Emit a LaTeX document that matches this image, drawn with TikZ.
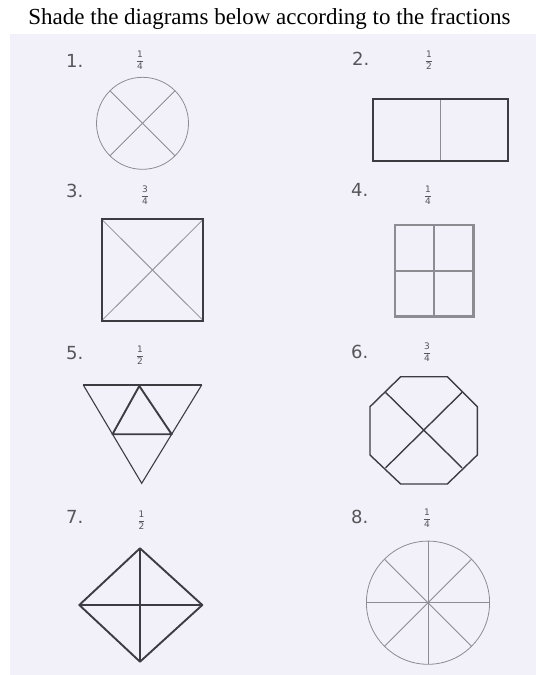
\documentclass[tikz,border=0pt]{standalone}
\usepackage{fontspec}
\setmainfont{Liberation Serif}
\newfontfamily\numfont{DejaVu Sans}
\newcommand{\myfr}[2]{$\displaystyle\frac{\mbox{\numfont\fontsize{9}{9}\selectfont #1}}{\mbox{\numfont\fontsize{9}{9}\selectfont #2}}$}
\definecolor{paper}{RGB}{242,241,250}
\definecolor{ink}{RGB}{60,60,66}
\definecolor{thin}{RGB}{140,140,146}
\definecolor{lab}{RGB}{85,85,90}
\begin{document}
\begin{tikzpicture}[x=1pt,y=-1pt,
  num/.style={font=\numfont\fontsize{18}{18}\selectfont, text=lab, inner sep=0pt, anchor=west},
  frac/.style={font=\fontsize{8}{8}\selectfont, text=lab, inner sep=0pt},
  thinline/.style={draw=thin, line width=0.8pt},
  thickline/.style={draw=ink, line width=1.9pt},
  medline/.style={draw=ink, line width=1.4pt},
  greybox/.style={draw=thin, line width=2.6pt}]
\useasboundingbox (0,0) rectangle (537,675);
\fill[white] (0,0) rectangle (537,675);
\fill[paper] (10,34) rectangle (536,675);
\node[font=\fontsize{23}{25}\selectfont, inner sep=0pt] (title) at (269.5,19) {Shade the diagrams below according to the fractions};
% labels
\node[num] (n1) at (66,61) {1.};
\node[frac] (f1) at (140,60) {\myfr{1}{4}};
\node[num] (n2) at (352,59) {2.};
\node[frac] (f2) at (429,60) {\myfr{1}{2}};
\node[num] (n3) at (66,191) {3.};
\node[frac] (f3) at (145,195) {\myfr{3}{4}};
\node[num] (n4) at (351,190) {4.};
\node[frac] (f4) at (428,195) {\myfr{1}{4}};
\node[num] (n5) at (66,353) {5.};
\node[frac] (f5) at (140,355) {\myfr{1}{2}};
\node[num] (n6) at (351,352) {6.};
\node[frac] (f6) at (427,352) {\myfr{3}{4}};
\node[num] (n7) at (66,517) {7.};
\node[frac] (f7) at (141.5,520) {\myfr{1}{2}};
\node[num] (n8) at (351,517) {8.};
\node[frac] (f8) at (427,518) {\myfr{1}{4}};
% 1 circle
\coordinate (c1) at (142.5,123.3);
\draw[thinline] (c1) circle[radius=46];
\draw[thinline] (c1) ++(45:46) -- ++(225:92);
\draw[thinline] (c1) ++(135:46) -- ++(-45:92);
% 2 rectangle
\draw[thickline] (372.7,99.3) rectangle (507.7,161);
\draw[thinline] (440.5,100.3) -- (440.5,160);
% 3 square
\draw[thinline] (101.7,219.3) -- (203.3,320.7);
\draw[thinline] (203.3,219.3) -- (101.7,320.7);
\draw[thickline] (101.7,219.3) rectangle (203.3,320.7);
% 4 window
\draw[greybox] (395,225) rectangle (473.3,316.7);
\draw[draw=thin, line width=1.6pt] (434,225) -- (434,316.7);
\draw[draw=thin, line width=1.6pt] (395,270.7) -- (473.3,270.7);
% 5 triangle
\coordinate (t1) at (83.3,385);
\coordinate (t2) at (201.7,385);
\coordinate (t3) at (141.7,483.3);
\draw[draw=ink, line width=1.1pt] (t1) -- (t3) -- (t2);
\draw[thickline] (t1) -- (t2);
\draw[thickline, line join=round] (139.3,386) -- (112.5,434.2) -- (171.7,434.2) -- cycle;
% 6 octagon
\draw[medline, line join=round] (400.7,376.7) -- (447.3,376.7) -- (477.3,406.7) -- (477.3,455) -- (447.3,484) -- (400.7,484) -- (370,455) -- (370,406.7) -- cycle;
\draw[medline] (385.6,392.4) -- (462,467.8);
\draw[medline] (462,392.4) -- (385.6,467.8);
% 7 diamond
\draw[thickline, line join=round] (140,548.3) -- (202.3,605) -- (140,661.7) -- (79.3,605) -- cycle;
\draw[thickline] (79.3,605) -- (202.3,605);
\draw[draw=ink, line width=1.2pt] (140,548.3) -- (140,661.7);
% 8 circle with 8 spokes
\coordinate (c8) at (428,602.7);
\draw[thinline] (c8) circle[radius=61.6];
\foreach \a in {0,45,90,135} {
  \draw[thinline] (c8) ++(\a:61.6) -- ++(\a+180:123.2);
}
\end{tikzpicture}
\end{document}
